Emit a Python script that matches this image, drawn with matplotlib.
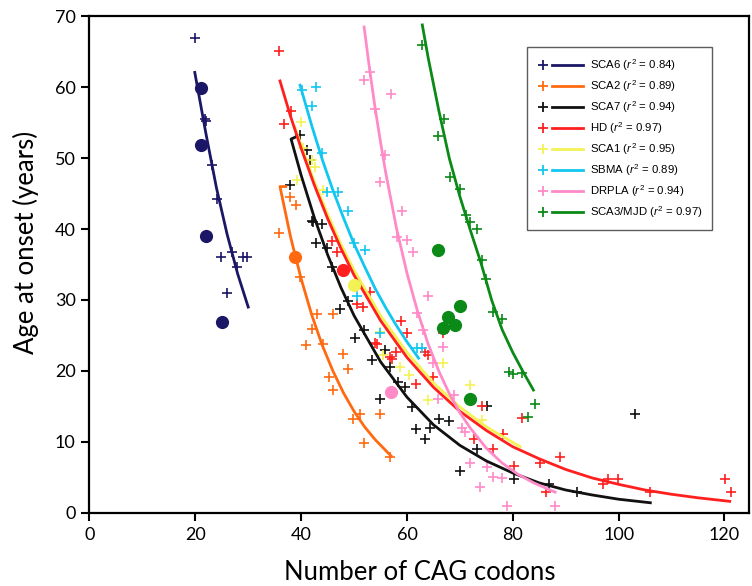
import numpy as np
import matplotlib.pyplot as plt
from matplotlib.lines import Line2D
from matplotlib.legend_handler import HandlerBase

plt.rcParams['mathtext.fontset'] = 'custom'
plt.rcParams['mathtext.rm'] = 'Liberation Sans'
plt.rcParams['mathtext.it'] = 'Liberation Sans:italic'

#%% data (CAG repeats vs age at onset)
names = ["SCA6", "SCA2", "SCA7", "HD", "SCA1", "SBMA", "DRPLA", "SCA3/MJD"]
r2 = ["0.84", "0.89", "0.94", "0.97", "0.95", "0.89", "0.94", "0.97"]
colors = ["#1b1766", "#ff6a10", "#111111", "#ff1f1f", "#f2f255", "#12c6f0", "#ff8ac8", "#0b8a17"]

# individual patients (crosses)
sca6_x = [20.0, 21.8, 22.0, 23.1, 24.1, 26.9, 24.8, 29.0, 29.7, 27.9, 26.0]
sca6_y = [67.0, 55.6, 55.3, 49.1, 44.2, 36.8, 36.0, 36.0, 36.0, 34.6, 31.0]
sca2_x = [35.9, 37.9, 39.1, 39.8, 41.0, 42.0, 43.0, 44.2, 45.2, 46.1, 46.1, 48.0, 48.9, 49.8,
          51.1, 51.8, 54.9, 56.8]
sca2_y = [39.4, 44.5, 43.4, 33.3, 23.6, 25.9, 28.0, 23.8, 19.1, 28.0, 17.3, 22.4, 20.3, 13.2,
          13.9, 9.9, 13.9, 7.8]
sca7_x = [37.9, 39.8, 41.1, 41.7, 42.0, 42.3, 43.9, 42.9, 44.9, 45.8, 47.4, 48.9, 50.2, 51.8,
          53.4, 55.9, 56.8, 58.4, 59.7, 54.9, 60.9, 61.8, 63.4, 64.3, 66.0, 67.9, 73.2, 70.0,
          75.1, 80.2, 86.8, 92.1, 103.1]
sca7_y = [46.2, 53.3, 51.1, 49.7, 41.2, 41.0, 40.7, 38.1, 37.4, 34.6, 28.7, 29.9, 24.7, 25.7,
          21.5, 22.9, 20.5, 18.4, 17.7, 16.0, 14.9, 11.8, 10.4, 12.0, 13.2, 13.0, 9.0, 5.9,
          15.0, 4.8, 4.0, 2.9, 13.9]
hd_x = [35.8, 38.0, 36.7, 45.8, 46.7, 50.6, 51.6, 53.1, 54.0, 56.8, 58.9, 60.0, 54.3, 58.0,
        57.1, 63.4, 64.0, 61.8, 65.0, 66.9, 74.2, 81.7, 78.2, 76.3, 80.2, 85.1, 89.0, 86.2,
        97.1, 98.0, 99.9, 105.9, 120.1, 121.3, 72.6]
hd_y = [65.1, 56.7, 54.8, 38.3, 36.7, 29.5, 29.0, 31.1, 24.0, 22.0, 27.1, 25.4, 23.8, 22.6,
        21.7, 22.6, 22.2, 18.2, 19.1, 25.3, 15.0, 13.4, 11.1, 9.0, 6.6, 7.0, 7.8, 2.9,
        4.0, 4.8, 4.8, 2.9, 4.8, 2.9, 10.4]
sca1_x = [39.9, 40.4, 42.0, 42.6, 39.2, 44.2, 54.9, 55.5, 58.7, 60.3, 64.0, 66.9, 71.9, 74.1]
sca1_y = [55.1, 51.4, 49.7, 48.8, 46.9, 45.5, 25.5, 22.2, 20.6, 19.4, 15.9, 21.1, 18.0, 13.1]
sbma_x = [40.1, 42.9, 42.0, 43.9, 44.8, 47.0, 48.8, 50.0, 52.1, 50.5, 54.9, 61.9, 62.8]
sbma_y = [59.6, 60.1, 57.4, 50.7, 45.3, 45.3, 42.5, 38.0, 37.0, 30.5, 25.3, 23.2, 23.2]
drpla_x = [53.0, 51.9, 56.9, 53.9, 55.9, 54.9, 59.0, 58.1, 60.0, 61.1, 64.0, 61.9, 63.1, 66.9,
           65.0, 68.8, 65.9, 70.4, 71.0, 71.9, 75.1, 76.3, 77.9, 73.8, 78.9, 88.0]
drpla_y = [62.1, 61.0, 59.0, 57.0, 50.4, 46.6, 42.5, 38.9, 38.4, 36.8, 30.5, 28.1, 25.8, 23.4,
           21.1, 16.6, 16.1, 11.9, 11.4, 7.0, 6.5, 5.1, 4.9, 3.6, 1.0, 1.0]
sca3_x = [62.9, 67.0, 65.9, 68.1, 70.0, 71.2, 71.9, 73.2, 74.1, 75.0, 76.3, 77.9, 79.2, 80.1,
          81.7, 84.2, 82.9]
sca3_y = [66.0, 55.5, 53.1, 47.4, 45.7, 42.0, 41.0, 40.0, 35.6, 32.9, 28.3, 27.3, 19.9, 19.6,
          19.7, 15.4, 13.5]

# filled dots (other cohort)
dot_sca6_x = [21.0, 21.0, 22.0, 25.0]
dot_sca6_y = [59.9, 51.9, 39.0, 26.9]
dot_sca2_x, dot_sca2_y = [38.9], [36.0]
dot_hd_x, dot_hd_y = [48.0], [34.2]
dot_sca1_x, dot_sca1_y = [49.9], [32.1]
dot_drpla_x, dot_drpla_y = [56.9], [17.0]
dot_sca3_x = [65.9, 70.0, 67.8, 69.1, 66.9, 71.9]
dot_sca3_y = [37.1, 29.1, 27.6, 26.5, 26.1, 16.0]

# fitted curves, points
fit_sca6_x = [19.9, 22, 24, 26, 28, 30.0]
fit_sca6_y = [62.1, 53.5, 45.8, 39.3, 33.7, 29.0]
fit_sca2_x = [37.1, 36, 38, 40, 42, 44, 46, 48, 50, 52, 54, 57]
fit_sca2_y = [46.0, 46.0, 38.9, 33.0, 27.9, 23.6, 20.0, 16.9, 14.3, 12.1, 10.3, 8.0]
fit_sca7_x = [39.0, 38.1, 40, 42.5, 45, 47.5, 50, 55, 60, 65, 70, 75, 80, 85, 90, 95, 100, 106]
fit_sca7_y = [53.0, 52.7, 47.6, 41.6, 36.4, 31.8, 27.8, 21.3, 16.3, 12.4, 9.5, 7.3, 5.6, 4.2,
              3.2, 2.5, 1.9, 1.4]
fit_hd_x = [36, 38, 40, 42.5, 45, 47.5, 50, 55, 60, 65, 70, 75, 80, 85, 90, 95, 100, 105, 110,
            115, 121]
fit_hd_y = [60.9, 55.9, 51.4, 46.2, 41.5, 37.3, 33.5, 27.1, 21.9, 17.7, 14.3, 11.6, 9.3, 7.6,
            6.1, 4.9, 4.0, 3.2, 2.6, 2.1, 1.6]
fit_sca1_x = [38.8, 40, 42.5, 45, 47.5, 50, 55, 60, 65, 70, 75, 81.4]
fit_sca1_y = [54.4, 51.8, 46.7, 42.1, 37.9, 34.2, 27.8, 22.6, 18.3, 14.9, 12.1, 9.3]
fit_sbma_x = [39.8, 42, 44, 46, 48, 50, 52, 54, 56, 58, 60, 62.2]
fit_sbma_y = [60.3, 54.6, 49.8, 45.5, 41.6, 37.9, 34.7, 31.6, 28.9, 26.4, 24.1, 21.8]
fit_drpla_x = [51.9, 53, 54, 55, 56, 58, 60, 62, 64, 66, 68, 70, 72, 75, 78, 81, 84, 88]
fit_drpla_y = [68.5, 62.2, 57.0, 52.3, 47.9, 40.2, 33.8, 28.4, 23.8, 20.0, 16.8, 14.1, 11.9,
               9.1, 7.0, 5.4, 4.2, 2.9]
fit_sca3_x = [62.9, 64, 66, 68, 70, 72, 74, 76, 78, 80, 82, 83.9]
fit_sca3_y = [68.8, 64.2, 56.8, 50.0, 44.6, 39.8, 35.2, 30.0, 25.8, 22.6, 19.8, 17.3]

crosses = [(sca6_x, sca6_y), (sca2_x, sca2_y), (sca7_x, sca7_y), (hd_x, hd_y),
           (sca1_x, sca1_y), (sbma_x, sbma_y), (drpla_x, drpla_y), (sca3_x, sca3_y)]
fits = [(fit_sca6_x, fit_sca6_y), (fit_sca2_x, fit_sca2_y), (fit_sca7_x, fit_sca7_y),
        (fit_hd_x, fit_hd_y), (fit_sca1_x, fit_sca1_y), (fit_sbma_x, fit_sbma_y),
        (fit_drpla_x, fit_drpla_y), (fit_sca3_x, fit_sca3_y)]
dots = [(dot_sca6_x, dot_sca6_y, 0), (dot_sca2_x, dot_sca2_y, 1), (dot_hd_x, dot_hd_y, 3),
        (dot_sca1_x, dot_sca1_y, 4), (dot_drpla_x, dot_drpla_y, 6), (dot_sca3_x, dot_sca3_y, 7)]


class PlusLineHandler(HandlerBase):
    # "+" marker on the left, fit line on the right
    def create_artists(self, legend, orig_handle, xdescent, ydescent, width, height,
                       fontsize, trans):
        c = orig_handle.get_color()
        x0 = -xdescent
        y = -ydescent + height / 2.
        mk = Line2D([x0 + 0.12 * width], [y], marker="+", color=c, ms=7, mew=1.3,
                    linestyle="none", transform=trans)
        ln = Line2D([x0 + 0.33 * width, x0 + width], [y, y], color=c, lw=2.0,
                    transform=trans)
        return [mk, ln]


fig = plt.figure(figsize=(7.52, 5.86), dpi=100)
ax = fig.add_axes([0.1190, 0.1251, 0.8774, 0.8469])

for i, (xs, ys) in enumerate(crosses):
    ax.plot(xs, ys, "+", color=colors[i], ms=7, mew=1.2, zorder=2)

draw_order = [0, 1, 2, 4, 3, 5, 6, 7]   # yellow goes under red
handles = [None] * len(names)
for i in draw_order:
    xs, ys = fits[i]
    handles[i], = ax.plot(xs, ys, "-", color=colors[i], lw=2.0, zorder=3,
                          solid_joinstyle="round")

for xs, ys, i in dots:
    ax.plot(xs, ys, "o", color=colors[i], ms=9.5, mec="none", zorder=4)

ax.set_xlim(0, 124.7)
ax.set_ylim(0, 70)
ax.set_xticks(np.arange(0, 121, 20))
ax.set_yticks(np.arange(0, 71, 10))
ax.tick_params(direction="out", length=6, width=1.5, labelsize=13, pad=4)
for lab in ax.get_xticklabels() + ax.get_yticklabels():
    lab.set_family("Lato")
for s in ax.spines.values():
    s.set_linewidth(1.6)

ax.set_xlabel("Number of CAG codons", fontsize=18.5, family="Lato")
ax.set_ylabel("Age at onset (years)", fontsize=18.5, family="Lato")
ax.xaxis.set_label_coords(0.5, -0.095)
ax.yaxis.set_label_coords(-0.076, 0.545)

labels = [n + r" ($r^2$ = " + v + ")" for n, v in zip(names, r2)]
leg = ax.legend(handles, labels, handler_map={Line2D: PlusLineHandler()},
                loc="upper left", bbox_to_anchor=(0.663, 0.938), frameon=True,
                fancybox=False, prop={"family": "Liberation Sans", "size": 8.2},
                handlelength=4.0, handletextpad=0.6, labelspacing=0.45,
                borderpad=0.9, borderaxespad=0)
leg.get_frame().set_edgecolor("#333333")
leg.get_frame().set_linewidth(1.0)

fig.savefig("out.png", dpi=100)
